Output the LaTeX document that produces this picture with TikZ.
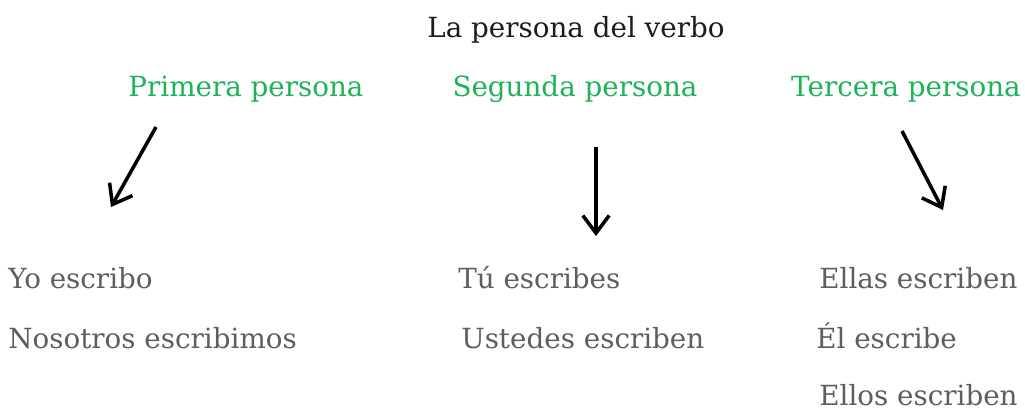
\documentclass[tikz,border=0pt]{standalone}
\usepackage{fontspec}
\setmainfont{DejaVu Serif}
\usetikzlibrary{arrows.meta}
\usepackage{xcolor}
\definecolor{Ink}{HTML}{1C1C1C}
\definecolor{Green}{HTML}{1DB35A}
\definecolor{Gray}{HTML}{5E5E5E}
\tikzset{
 title/.style={text=Ink, font=\fontsize{15.8}{18}\selectfont, inner sep=0pt, anchor=base},
 person/.style={text=Green, font=\fontsize{15.8}{18}\selectfont, inner sep=0pt, anchor=base},
 form/.style={text=Gray, font=\fontsize{15.8}{18}\selectfont, inner sep=0pt, anchor=base west},
 arrow/.style={-{Straight Barb[length=10pt,width=15pt]}, line width=2pt, draw=black}
}
\begin{document}
\begin{tikzpicture}[x=0.02cm,y=-0.02cm]
\useasboundingbox (0,0) rectangle (1025,410);
\node[title] (verbo) at (576,37) {La persona del verbo};
\node[person] (primera) at (246,96) {Primera persona};
\node[person] (segunda) at (575,96) {Segunda persona};
\node[person] (tercera) at (906,96) {Tercera persona};
% arrows
\coordinate (a1) at (156,127); \coordinate (b1) at (111,207);
\coordinate (a2) at (596,147); \coordinate (b2) at (596,236);
\coordinate (a3) at (902,131); \coordinate (b3) at (943,210);
\draw[arrow] (a1) -- (b1);
\draw[arrow] (a2) -- (b2);
\draw[arrow] (a3) -- (b3);
% forms
\node[form] (yo) at (8,288) {Yo escribo};
\node[form] (nosotros) at (8,348) {Nosotros escribimos};
\node[form] (tu) at (458,288) {Tú escribes};
\node[form] (ustedes) at (461,348) {Ustedes escriben};
\node[form] (ellas) at (819,288) {Ellas escriben};
\node[form] (el) at (816,348) {Él escribe};
\node[form] (ellos) at (819,405) {Ellos escriben};
\end{tikzpicture}
\end{document}
